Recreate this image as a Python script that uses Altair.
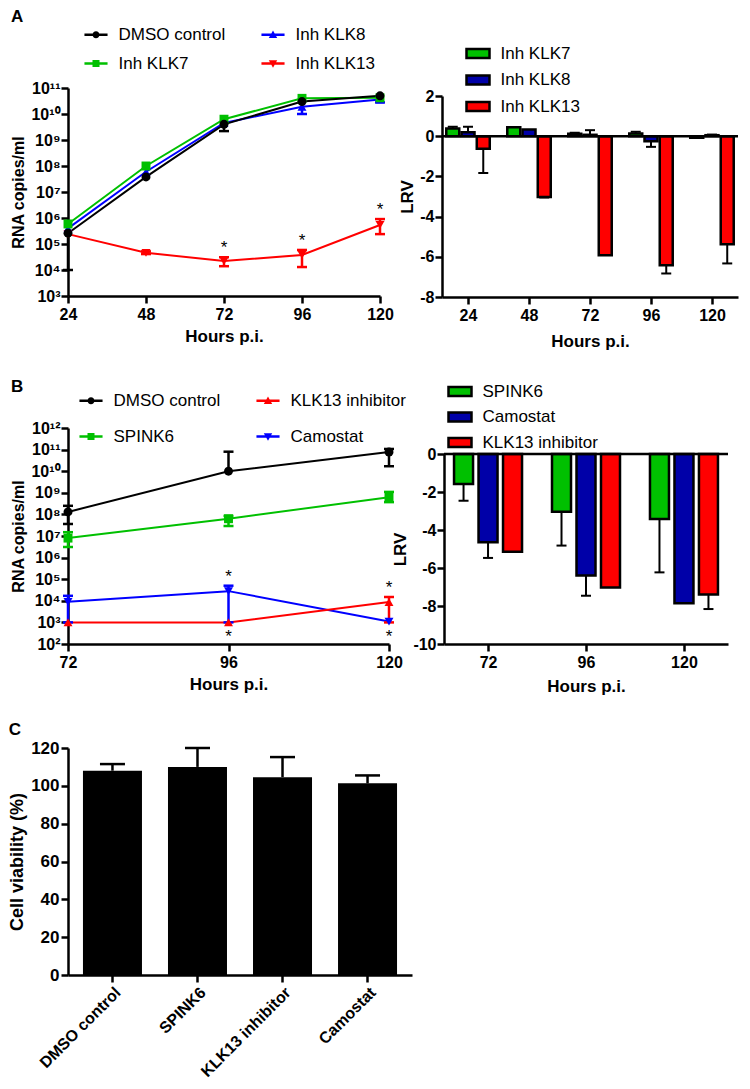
import altair as alt
import pandas as pd

FONT = "Liberation Sans"
BLACK = "#000000"
GREEN = "#00c000"
BLUE_LINE = "#0000ff"
BLUE_BAR = "#0000a8"
RED = "#ff0000"

# ---------------- Panel A (left): RNA copies/ml ----------------
a_hours = [24, 48, 72, 96, 120]
a_names = ["DMSO control", "Inh KLK7", "Inh KLK8", "Inh KLK13"]
a_colors = [BLACK, GREEN, BLUE_LINE, RED]
a_shapes = ["circle", "square", "triangle-up", "triangle-down"]
a_dmso = [2.6e5, 3.8e7, 4.0e9, 3.0e10, 5.0e10]
a_dmso_lo = [1.0e4, 3.8e7, 2.2e9, 3.0e10, 5.0e10]
a_dmso_hi = [2.6e5, 3.8e7, 4.0e9, 3.0e10, 5.0e10]
a_klk8 = [4.0e5, 6.0e7, 4.5e9, 1.9e10, 3.6e10]
a_klk8_lo = [4.0e5, 6.0e7, 4.5e9, 1.0e10, 2.8e10]
a_klk8_hi = [4.0e5, 6.0e7, 4.5e9, 1.9e10, 3.6e10]
a_klk7 = [5.9e5, 1.0e8, 6.3e9, 4.0e10, 4.2e10]
a_klk7_lo = [5.9e5, 1.0e8, 6.3e9, 4.0e10, 4.2e10]
a_klk7_hi = [5.9e5, 1.0e8, 6.3e9, 4.0e10, 4.2e10]
a_klk13 = [2.4e5, 4.6e4, 2.2e4, 3.8e4, 5.4e5]
a_klk13_lo = [2.4e5, 4.1e4, 1.4e4, 1.3e4, 2.4e5]
a_klk13_hi = [2.4e5, 5.2e4, 3.1e4, 5.9e4, 9.1e5]
a_star_hours = [72, 96, 120]
a_star_values = [3.1e4, 5.9e4, 9.1e5]
a_star_side = ["above", "above", "above"]

# ---------------- Panel A (right): LRV ----------------
ar_hours = ["24", "48", "72", "96", "120"]
ar_names = ["Inh KLK7", "Inh KLK8", "Inh KLK13"]
ar_colors = [GREEN, BLUE_BAR, RED]
ar_klk7 = [0.38, 0.45, 0.12, 0.13, -0.08]
ar_klk7_err = [0.47, 0.45, 0.17, 0.22, -0.08]
ar_klk8 = [0.20, 0.33, 0.07, -0.25, 0.05]
ar_klk8_err = [0.47, 0.33, 0.30, -0.53, 0.08]
ar_klk13 = [-0.63, -3.03, -5.92, -6.42, -5.37]
ar_klk13_err = [-1.83, -3.05, -5.92, -6.83, -6.33]

# ---------------- Panel B (left): RNA copies/ml ----------------
b_hours = [72, 96, 120]
b_names = ["DMSO control", "SPINK6", "KLK13 inhibitor", "Camostat"]
b_colors = [BLACK, GREEN, RED, BLUE_LINE]
b_shapes = ["circle", "square", "triangle-up", "triangle-down"]
b_dmso = [1.3e8, 1.0e10, 7.7e10]
b_dmso_lo = [3.6e7, 1.0e10, 1.7e10]
b_dmso_hi = [2.5e8, 8.0e10, 1.07e11]
b_spink6 = [8.0e6, 6.3e7, 6.3e8]
b_spink6_lo = [3.1e6, 2.9e7, 3.7e8]
b_spink6_hi = [1.5e7, 8.5e7, 1.1e9]
b_camostat = [9.0e3, 2.8e4, 1.1e3]
b_camostat_lo = [1.0e3, 1.0e3, 1.1e3]
b_camostat_hi = [1.7e4, 5.0e4, 1.1e3]
b_klk13 = [1.0e3, 1.0e3, 8.7e3]
b_klk13_lo = [1.0e3, 1.0e3, 1.0e3]
b_klk13_hi = [1.0e3, 1.0e3, 1.5e4]
b_star_hours = [96, 96, 120, 120]
b_star_values = [5.0e4, 1.0e3, 1.5e4, 1.1e3]
b_star_side = ["above", "below", "above", "below"]

# ---------------- Panel B (right): LRV ----------------
br_hours = ["72", "96", "120"]
br_names = ["SPINK6", "Camostat", "KLK13 inhibitor"]
br_colors = [GREEN, BLUE_BAR, RED]
br_spink6 = [-1.58, -3.04, -3.42]
br_spink6_err = [-2.46, -4.82, -6.23]
br_camostat = [-4.65, -6.40, -7.86]
br_camostat_err = [-5.47, -7.46, -7.86]
br_klk13 = [-5.14, -7.02, -7.40]
br_klk13_err = [-5.14, -7.02, -8.16]

# ---------------- Panel C: cell viability ----------------
c_names = ["DMSO control", "SPINK6", "KLK13 inhibitor", "Camostat"]
c_values = [108.0, 110.0, 104.6, 101.3]
c_err = [111.5, 120.0, 115.2, 105.5]

# ---------------- helpers ----------------
SUPS = "['\u2070','\u00b9','\u00b2','\u00b3','\u2074','\u2075','\u2076','\u2077','\u2078','\u2079']"
EXP = "round(log(datum.value)/LN10)"
LOG_LABEL = f"'10' + ({EXP} >= 10 ? '\u00b9' + {SUPS}[{EXP} - 10] : {SUPS}[{EXP}])"
HYPHEN_LABEL = "datum.value < 0 ? '-' + abs(datum.value) : '' + datum.value"

LINE = "M-3.3,-0.36H3.3V0.36H-3.3Z "
LEG_PATHS = {
    "circle": LINE + "M1,0A1,1 0 1,1 -1,0A1,1 0 1,1 1,0Z",
    "square": LINE + "M-1,-1H1V1H-1Z",
    "triangle-up": LINE + "M0,-1.2L1.2,0.9H-1.2Z",
    "triangle-down": LINE + "M-1.2,-0.9H1.2L0,1.2Z",
}
RECT = "M-1.15,-0.45H1.15V0.45H-1.15Z"


def axis_style(**kw):
    base = dict(domainColor=BLACK, domainWidth=2.5, tickColor=BLACK, tickWidth=2.5, tickSize=7,
                labelFont=FONT, labelFontSize=16, labelFontWeight="bold", labelColor=BLACK,
                titleFont=FONT, titleFontSize=17, titleFontWeight="bold", titleColor=BLACK,
                grid=False, labelPadding=3, titlePadding=6, labelFlush=False, labelOverlap=False)
    base.update(kw)
    return alt.Axis(**base)


def long_table(hours, series):
    rows = []
    for name, vals, los, his in series:
        for h, v, lo, hi in zip(hours, vals, los, his):
            rows.append(dict(hours=h, series=name, value=v, lo=lo, hi=hi))
    return pd.DataFrame(rows)


def cap_table(df):
    rows = []
    for r in df.itertuples():
        if r.lo < r.value:
            rows.append(dict(hours=r.hours, series=r.series, value=r.lo))
        if r.hi > r.value:
            rows.append(dict(hours=r.hours, series=r.series, value=r.hi))
    return pd.DataFrame(rows)


def line_panel(df, stars, names, colors, shapes, xdom, xvals, ydom, yvals, width, height,
               legend, title, x_title_pad):
    cscale = alt.Scale(domain=names, range=colors)

    def X():
        return alt.X("hours:Q", scale=alt.Scale(domain=xdom, nice=False, zero=False),
                     axis=axis_style(values=xvals, title="Hours p.i.", format="d",
                                     titlePadding=x_title_pad))

    def Y(f="value"):
        return alt.Y(f"{f}:Q", scale=alt.Scale(type="log", domain=ydom, nice=False),
                     axis=axis_style(values=yvals, title="RNA copies/ml", labelExpr=LOG_LABEL,
                                     titleFontSize=16, labelPadding=1, titlePadding=4))

    C = alt.Color("series:N", scale=cscale, legend=None)
    lines = alt.Chart(df).mark_line(strokeWidth=2).encode(x=X(), y=Y(), color=C)
    errs = alt.Chart(df[df.lo < df.hi]).mark_rule(strokeWidth=2.5).encode(
        x=X(), y=Y("lo"), y2="hi:Q", color=C)
    caps = alt.Chart(cap_table(df)).mark_tick(orient="horizontal", size=10, thickness=2.5,
                                               opacity=1).encode(x=X(), y=Y(), color=C)
    pts = alt.Chart(df).mark_point(filled=True, size=80, opacity=1).encode(
        x=X(), y=Y(), color=C,
        shape=alt.Shape("series:N", scale=alt.Scale(domain=names, range=shapes), legend=None))
    up = alt.Chart(stars[stars.side == "above"]).mark_text(
        text="*", dy=-9, fontSize=17, font=FONT, color=BLACK).encode(x=X(), y=Y())
    down = alt.Chart(stars[stars.side == "below"]).mark_text(
        text="*", dy=15, fontSize=17, font=FONT, color=BLACK).encode(x=X(), y=Y())
    leg = alt.Chart(df).transform_filter("false").mark_point(
        filled=True, size=49, opacity=1, strokeWidth=0).encode(
        x=X(), y=Y(),
        color=alt.Color("series:N", scale=cscale, legend=legend),
        shape=alt.Shape("series:N",
                        scale=alt.Scale(domain=names, range=[LEG_PATHS[s] for s in shapes]),
                        legend=legend))
    layers = [lines, errs, caps, pts, up]
    if (stars.side == "below").any():
        layers.append(down)
    layers.append(leg)
    return alt.layer(*layers).resolve_scale(color="independent", shape="independent").properties(
        width=width, height=height, title=title)


def bar_panel(hours, series, names, colors, ydom, yvals, yrange, width, height, pin, pout,
              legend, x_title_pad):
    # one band per bar, with one empty band between the hour groups
    keys = []
    for i, h in enumerate(hours):
        if i > 0:
            keys.append(f"gap {i}")
        for n in names:
            keys.append(f"{h} | {n}")
    rows = []
    for name, vals, errs in series:
        for h, v, e in zip(hours, vals, errs):
            rows.append(dict(key=f"{h} | {name}", hours=h, series=name, value=v, err=e))
    df = pd.DataFrame(rows)
    m, q = len(names), 1
    hour_pad = (m - pin + 2 * pout) / (2 * (m + q))

    KX = alt.X("key:N", sort=keys,
               scale=alt.Scale(type="band", domain=keys, paddingInner=pin, paddingOuter=pout),
               axis=None)

    def Y(f):
        return alt.Y(f"{f}:Q", scale=alt.Scale(domain=ydom, range=yrange, nice=False),
                     axis=axis_style(values=yvals, title="LRV", labelExpr=HYPHEN_LABEL,
                                     labelPadding=1, titlePadding=3))

    bars = alt.Chart(df).mark_bar(stroke=BLACK, strokeWidth=2.5).encode(
        x=KX, y=Y("value"),
        color=alt.Color("series:N", scale=alt.Scale(domain=names, range=colors), legend=legend))
    e = df[df.err != df.value]
    errs = alt.Chart(e).mark_rule(color=BLACK, strokeWidth=2).encode(
        x=KX, y=Y("value"), y2="err:Q")
    caps = alt.Chart(e).mark_tick(orient="horizontal", color=BLACK, thickness=2, size=10,
                                  opacity=1).encode(x=KX, y=Y("err"))
    zero = alt.Chart(pd.DataFrame({"value": [0.0]})).mark_rule(color=BLACK, strokeWidth=2.5).encode(
        y=Y("value"))
    hour_axis = alt.Chart(pd.DataFrame({"hours": hours, "value": [0.0] * len(hours)})).mark_point(
        opacity=0, size=1).encode(
        x=alt.X("hours:N", sort=hours, scale=alt.Scale(type="point", domain=hours, padding=hour_pad),
                axis=axis_style(title="Hours p.i.", labelAngle=0, titlePadding=x_title_pad,
                                orient="bottom")),
        y=Y("value"))
    return alt.layer(bars, errs, caps, zero, hour_axis).resolve_scale(
        x="independent", color="independent").properties(width=width, height=height)


def line_legend(x, y, row_pad):
    return alt.Legend(orient="none", legendX=x, legendY=y, columns=2, title=None,
                      labelFont=FONT, labelFontSize=17, labelColor=BLACK, symbolSize=49,
                      symbolOffset=8.5, labelOffset=14, columnPadding=30, rowPadding=row_pad,
                      padding=0, symbolStrokeWidth=0)


def bar_legend(x, y, row_pad):
    return alt.Legend(orient="none", legendX=x, legendY=y, title=None, labelFont=FONT,
                      labelFontSize=17, labelColor=BLACK, symbolType=RECT, symbolSize=400,
                      symbolOffset=1.5, labelOffset=11, rowPadding=row_pad, padding=0,
                      symbolStrokeColor=BLACK, symbolStrokeWidth=2.5)


def panel_title(t, offset):
    return alt.TitleParams(t, anchor="start", fontSize=17, font=FONT, fontWeight="bold",
                           color=BLACK, offset=offset)


# ---------------- build panels ----------------
a_df = long_table(a_hours, [
    ("Inh KLK13", a_klk13, a_klk13_lo, a_klk13_hi),
    ("Inh KLK8", a_klk8, a_klk8_lo, a_klk8_hi),
    ("Inh KLK7", a_klk7, a_klk7_lo, a_klk7_hi),
    ("DMSO control", a_dmso, a_dmso_lo, a_dmso_hi),
])
a_stars = pd.DataFrame(dict(hours=a_star_hours, value=a_star_values, side=a_star_side))
a_left = line_panel(a_df, a_stars, a_names, a_colors, a_shapes, [24, 120], a_hours,
                    [1e3, 1e11], [10.0 ** k for k in range(3, 12)], 312, 208,
                    line_legend(11, -62, 11), panel_title("A", 0), 6)

a_right = bar_panel(ar_hours, [
    ("Inh KLK7", ar_klk7, ar_klk7_err),
    ("Inh KLK8", ar_klk8, ar_klk8_err),
    ("Inh KLK13", ar_klk13, ar_klk13_err),
], ar_names, ar_colors, [-8, 2], [-8, -6, -4, -2, 0, 2], [209, 8], 296, 209, 0.148, 0.28,
    bar_legend(23, -46, 5.5), 10)

b_df = long_table(b_hours, [
    ("Camostat", b_camostat, b_camostat_lo, b_camostat_hi),
    ("KLK13 inhibitor", b_klk13, b_klk13_lo, b_klk13_hi),
    ("SPINK6", b_spink6, b_spink6_lo, b_spink6_hi),
    ("DMSO control", b_dmso, b_dmso_lo, b_dmso_hi),
])
b_stars = pd.DataFrame(dict(hours=b_star_hours, value=b_star_values, side=b_star_side))
b_left = line_panel(b_df, b_stars, b_names, b_colors, b_shapes, [72, 120], b_hours,
                    [1e2, 1e12], [10.0 ** k for k in range(2, 13)], 321, 216,
                    line_legend(6, -36, 18), panel_title("B", -4), 6)

b_right = bar_panel(br_hours, [
    ("SPINK6", br_spink6, br_spink6_err),
    ("Camostat", br_camostat, br_camostat_err),
    ("KLK13 inhibitor", br_klk13, br_klk13_err),
], br_names, br_colors, [-10, 0], [-10, -8, -6, -4, -2, 0], [216, 26], 284, 216, 0.224, 0.41,
    bar_legend(3, -48, 4.5), 8)

c_df = pd.DataFrame(dict(name=c_names, value=c_values, err=c_err))
cX = alt.X("name:N", sort=c_names,
           scale=alt.Scale(type="band", paddingInner=0.306, paddingOuter=0.176),
           axis=axis_style(title=None, labelAngle=-45, labelFontSize=16, labelPadding=2))


def cY(f):
    return alt.Y(f"{f}:Q", scale=alt.Scale(domain=[0, 120], nice=False),
                 axis=axis_style(values=[0, 20, 40, 60, 80, 100, 120], title="Cell viability (%)",
                                 titleFontSize=18, labelFontSize=17, labelPadding=2, titlePadding=4))


c_bars = alt.Chart(c_df).mark_bar(color=BLACK).encode(x=cX, y=cY("value"))
c_errs = alt.Chart(c_df).mark_rule(color=BLACK, strokeWidth=2.5).encode(x=cX, y=cY("value"), y2="err:Q")
c_caps = alt.Chart(c_df).mark_tick(orient="horizontal", color=BLACK, thickness=2.5, size=25,
                                   opacity=1).encode(x=cX, y=cY("err"))
c_panel = alt.layer(c_bars, c_errs, c_caps).properties(width=344, height=227,
                                                       title=panel_title("C", 0))

row1 = alt.hconcat(a_left, a_right, spacing=4)
row2 = alt.hconcat(b_left, b_right, spacing=-15)
row3 = alt.hconcat(c_panel)
top = alt.vconcat(row1, row2, spacing=29)
chart = alt.vconcat(top, row3, spacing=27).properties(
    padding=0, background="white").configure_view(stroke=None)

chart.save("out.html", embed_options={"renderer": "svg", "actions": False})
